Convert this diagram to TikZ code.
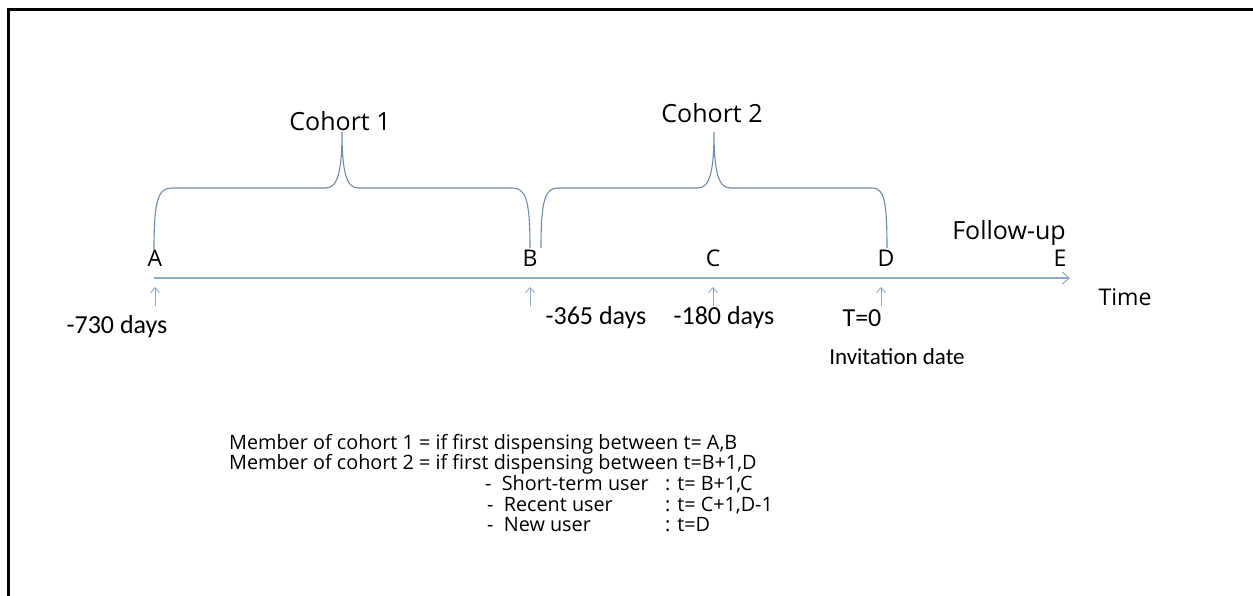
\documentclass[tikz,border=0pt]{standalone}
\usepackage{fontspec}
\setmainfont{Open Sans}
\newfontfamily\calfont{Carlito}
\usetikzlibrary{arrows.meta}
\definecolor{axisblue}{RGB}{140,170,205}
\definecolor{braceblue}{RGB}{110,140,175}
\tikzset{
  lbl/.style={inner sep=0pt, font=\fontsize{23}{26}\selectfont},
  biglbl/.style={inner sep=0pt, font=\fontsize{25}{28}\selectfont},
  clbl/.style={inner sep=0pt, font=\calfont\fontsize{26}{30}\selectfont},
  body/.style={inner sep=0pt, anchor=base west, font=\fontsize{19.8}{24}\selectfont},
  brace/.style={draw=braceblue, line width=1.1pt},
  tick/.style={draw=axisblue, line width=0.9pt, -{Straight Barb[length=5pt,width=9pt]}},
  axis/.style={draw=axisblue, line width=1.6pt, -{Straight Barb[length=7pt,width=12pt,line width=1pt]}}
}
\begin{document}
\begin{tikzpicture}[x=1pt,y=-1pt]
\useasboundingbox (0,0) rectangle (1253,596);
\fill[white] (0,0) rectangle (1253,596);
% frame (top and left edges)
\draw[line width=3pt] (8,596) -- (8,10) -- (1253,10);
% axis
\coordinate (ax0) at (154,278);
\coordinate (ax1) at (1070,278);
\draw[axis] (ax0) -- (ax1);
% point labels
\node[lbl] (A) at (155,258) {A};
\node[lbl] (B) at (530,258) {B};
\node[lbl] (C) at (713,258) {C};
\node[lbl] (D) at (886,258) {D};
\node[lbl] (E) at (1060,258) {E};
\node[biglbl] (fu) at (1009,233) {Follow-up};
\node[lbl] (time) at (1125,297) {Time};
% tick arrows
\foreach \n/\x in {ta/155,tb/530,tc/713,td/881}{
  \coordinate (\n0) at (\x,306);
  \coordinate (\n1) at (\x,287);
  \draw[tick] (\n0) -- (\n1);
}
% day labels
\node[clbl] (d730) at (117,327) {-730 days};
\node[clbl] (d365) at (596,318) {-365 days};
\node[clbl] (d180) at (724,318) {-180 days};
\node[clbl] (t0) at (862,318) {T=0};
\node[clbl, font=\calfont\fontsize{23}{27}\selectfont] (inv) at (897,357) {Invitation date};
% cohort labels
\node[biglbl] (c1) at (340,121) {Cohort 1};
\node[biglbl] (c2) at (712,113) {Cohort 2};
% braces
\draw[brace] (154,250) .. controls (154,200) and (158,188) .. (172,188)
  -- (326,188) .. controls (338,188) and (342,170) .. (342,132)
  .. controls (342,170) and (346,188) .. (358,188)
  -- (512,188) .. controls (526,188) and (530,200) .. (530,248);
\draw[brace] (541,248) .. controls (541,200) and (545,188) .. (558,188)
  -- (698,188) .. controls (710,188) and (714,170) .. (714,132)
  .. controls (714,170) and (718,188) .. (730,188)
  -- (872,188) .. controls (884,188) and (887,200) .. (887,248);
% definitions
\node[body] (m1) at (229,449) {Member of cohort 1 = if first dispensing between t= A,B};
\node[body] (m2) at (229,469) {Member of cohort 2 = if first dispensing between t=B+1,D};
\node[body] (s1) at (485,490) {-\ \ Short-term user};
\node[body] (s2) at (665,490) {: t= B+1,C};
\node[body] (r1) at (487,511) {-\ \ Recent user};
\node[body] (r2) at (665,511) {: t= C+1,D-1};
\node[body] (n1) at (487,531) {-\ \ New user};
\node[body] (n2) at (665,531) {: t=D};
\end{tikzpicture}
\end{document}
